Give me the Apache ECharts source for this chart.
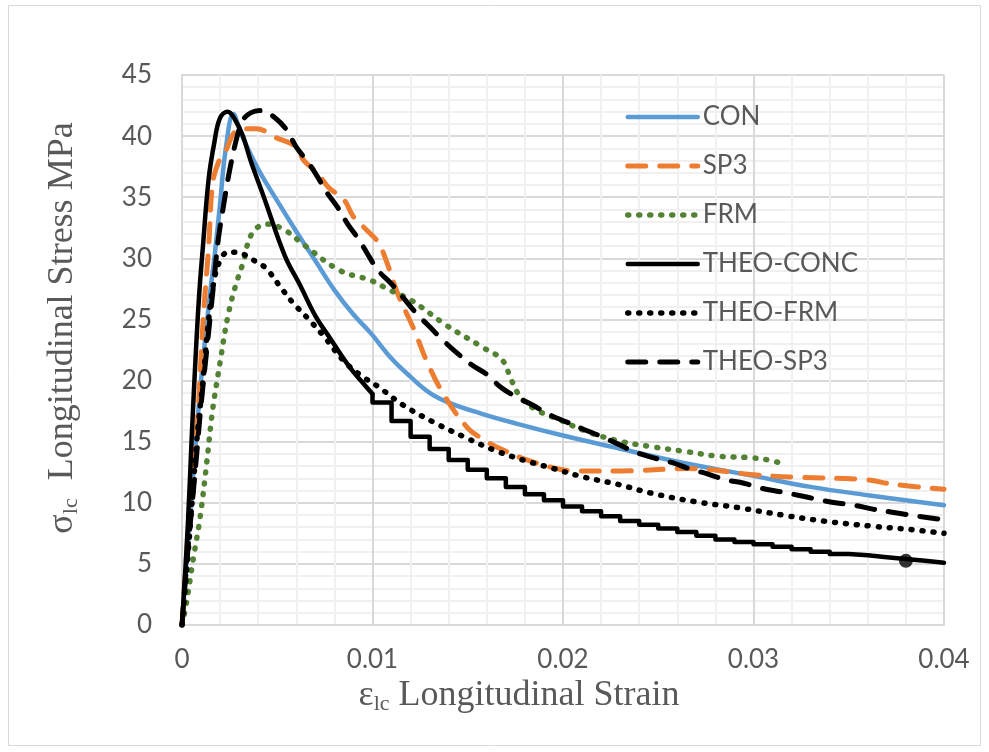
<!DOCTYPE html>
<html>
<head>
<meta charset="utf-8">
<script src="https://cdn.jsdelivr.net/npm/echarts@6/dist/echarts.min.js"></script>
<style>
  html, body { margin: 0; padding: 0; background: #fff; }
  #chart { width: 989px; height: 752px; }
</style>
</head>
<body>
<div id="chart"></div>
<script>
// strain (x) and stress (y, MPa)
const conX = [0, 0.0005, 0.001, 0.0015, 0.0017, 0.002, 0.0023, 0.0027, 0.0031, 0.004, 0.005, 0.006, 0.007, 0.008, 0.009, 0.0099, 0.011, 0.012, 0.013, 0.014, 0.0157, 0.0175, 0.02, 0.0225, 0.0262, 0.03, 0.033, 0.0361, 0.04];
const conY = [0, 10.5, 20, 27.5, 30, 34.5, 39, 41.8, 40.2, 37.3, 34.7, 32.2, 29.8, 27.4, 25.4, 23.9, 21.8, 20.3, 19, 18.2, 17.3, 16.5, 15.5, 14.6, 13.3, 12.2, 11.3, 10.6, 9.8];

const sp3X = [0, 0.0003, 0.0008, 0.0011, 0.0014, 0.0016, 0.0019, 0.0023, 0.0027, 0.0031, 0.0039, 0.0049, 0.006, 0.0064, 0.0071, 0.0077, 0.0085, 0.009, 0.0097, 0.0103, 0.0107, 0.0113, 0.0122, 0.0129, 0.0138, 0.015, 0.0157, 0.0166, 0.0185, 0.0208, 0.023, 0.0266, 0.03, 0.032, 0.0358, 0.0374, 0.04];
const sp3Y = [0, 7, 16.5, 24.7, 31, 36, 37.8, 38.8, 40.2, 40.6, 40.6, 39.9, 39.1, 38, 37, 35.8, 34.8, 33.4, 32.3, 31.3, 29.9, 27.2, 24.1, 21.4, 18.7, 16.1, 15.3, 14.5, 13.3, 12.6, 12.6, 12.8, 12.3, 12.1, 11.9, 11.5, 11.1];

const frmX = [0, 0.0002, 0.0006, 0.00095, 0.0013, 0.0016, 0.002, 0.0024, 0.0028, 0.0032, 0.0037, 0.0045, 0.0054, 0.0064, 0.0083, 0.0099, 0.0109, 0.012, 0.0139, 0.0158, 0.0168, 0.0173, 0.0178, 0.0186, 0.0198, 0.0213, 0.0231, 0.0246, 0.0264, 0.0282, 0.0297, 0.0308, 0.0315];
const frmY = [0, 1.5, 5.5, 8.8, 13.3, 17.5, 21.5, 25.2, 27.7, 29.6, 32.1, 32.8, 32.3, 31.1, 29, 28.2, 27.4, 26.6, 24.5, 22.7, 21.7, 20, 18.6, 17.6, 16.8, 15.8, 15, 14.6, 14.2, 13.8, 13.7, 13.5, 13.2];

// THEO-CONC: smooth rise and fall up to 0.01, then a staircase
const theoConcX = [0, 0.0003, 0.0005, 0.0007, 0.0009, 0.0011, 0.0014, 0.0017, 0.002, 0.0024, 0.0028, 0.0032, 0.0036, 0.0043, 0.0054, 0.0062, 0.007, 0.0078, 0.0088, 0.0095, 0.01];
const theoConcY = [0, 8, 15, 21.5, 27, 31, 36.5, 39.5, 41.5, 42, 41.3, 40, 38, 35, 30.2, 27.8, 25.3, 23.4, 21.1, 19.8, 18.9];
const stepX = [0.010, 0.011, 0.012, 0.013, 0.014, 0.015, 0.016, 0.017, 0.018, 0.019, 0.020, 0.021, 0.022, 0.023, 0.024, 0.025, 0.026, 0.027, 0.028, 0.029, 0.030, 0.031, 0.032, 0.033, 0.034, 0.035, 0.036, 0.037, 0.038, 0.039];
const stepY = [18.2, 16.7, 15.4, 14.4, 13.5, 12.7, 12.0, 11.3, 10.7, 10.2, 9.7, 9.3, 8.9, 8.5, 8.2, 7.9, 7.6, 7.3, 7.0, 6.8, 6.6, 6.4, 6.2, 6.0, 5.8, 5.7, 5.55, 5.4, 5.25, 5.1];
const stepEndX = 0.04;
const markPt = [0.038, 5.25];

const theoFrmX = [0, 0.0003, 0.0005, 0.0008, 0.0011, 0.0014, 0.0017, 0.002, 0.0024, 0.0029, 0.0035, 0.0039, 0.0044, 0.0051, 0.0058, 0.0066, 0.0074, 0.0085, 0.0094, 0.0103, 0.0116, 0.0132, 0.0148, 0.0164, 0.0179, 0.0195, 0.0211, 0.0229, 0.0246, 0.0269, 0.0292, 0.0315, 0.0337, 0.0361, 0.0383, 0.04];
const theoFrmY = [0, 5.5, 9.5, 15.5, 20, 25, 28.3, 29.8, 30.5, 30.5, 30.1, 29.7, 29.2, 27.8, 26.4, 25.1, 23.7, 21.6, 20.4, 19.5, 18, 16.6, 15.4, 14.3, 13.5, 12.8, 12.1, 11.5, 10.8, 10.1, 9.6, 9.0, 8.5, 8.1, 7.8, 7.5];

const theoSp3X = [0, 0.0003, 0.0006, 0.0008, 0.001, 0.0013, 0.0015, 0.0017, 0.0019, 0.0022, 0.0025, 0.0029, 0.0032, 0.0036, 0.0042, 0.0048, 0.0055, 0.006, 0.0066, 0.0071, 0.0076, 0.0082, 0.0087, 0.0093, 0.0098, 0.0103, 0.011, 0.0116, 0.0123, 0.013, 0.0137, 0.0144, 0.0152, 0.016, 0.0167, 0.0175, 0.0184, 0.0193, 0.0202, 0.0211, 0.0219, 0.0229, 0.0237, 0.0247, 0.0257, 0.0266, 0.0275, 0.0285, 0.0295, 0.0304, 0.0314, 0.0324, 0.0333, 0.0343, 0.0353, 0.0362, 0.0372, 0.0382, 0.0391, 0.04];
const theoSp3Y = [0, 6, 11, 14.5, 18, 22.5, 25.5, 28.5, 31.5, 34.5, 37.2, 40, 41.3, 41.9, 42.1, 41.6, 40.5, 39.1, 37.9, 36.7, 35.4, 34.1, 32.8, 31.5, 30.2, 29, 27.9, 26.8, 25.5, 24.4, 23.3, 22.3, 21.3, 20.5, 19.5, 18.7, 18, 17.2, 16.6, 16, 15.5, 14.8, 14.2, 13.7, 13.3, 12.8, 12.4, 11.9, 11.6, 11.2, 10.9, 10.6, 10.3, 10, 9.8, 9.5, 9.25, 9, 8.8, 8.6];

const names = ['CON', 'SP3', 'FRM', 'THEO-CONC', 'THEO-FRM', 'THEO-SP3'];

const zip = (xs, ys) => xs.map((x, i) => [x, ys[i]]);

// staircase corners: drop at each step x, then run flat to the next one
const stairs = [[theoConcX[theoConcX.length - 1], theoConcY[theoConcY.length - 1]]];
stepX.forEach((x, i) => {
  stairs.push([x, stairs[stairs.length - 1][1]]);
  stairs.push([x, stepY[i]]);
});
stairs.push([stepEndX, stepY[stepY.length - 1]]);

const GREY = '#595959';
const dash = [18, 14];
const dots = [1, 10];

const styles = {
  'CON': { color: '#5b9bd5', width: 4.5, type: 'solid' },
  'SP3': { color: '#ed7d31', width: 5, type: dash },
  'FRM': { color: '#548235', width: 5.5, type: dots },
  'THEO-CONC': { color: '#000', width: 4.5, type: 'solid' },
  'THEO-FRM': { color: '#000', width: 5.5, type: dots },
  'THEO-SP3': { color: '#000', width: 5, type: dash },
};

const chart = echarts.init(document.getElementById('chart'));

const lineSeries = (name, data, smooth) => ({
  name,
  type: 'line',
  data,
  symbol: 'none',
  smooth: smooth === undefined ? 0.4 : smooth,
  lineStyle: { ...styles[name], cap: 'round', join: 'round' },
  itemStyle: { color: styles[name].color },
  z: 3,
});

chart.setOption({
  animation: false,
  backgroundColor: '#fff',
  graphic: [
    {
      type: 'rect',
      shape: { x: 8.5, y: 5.5, width: 972, height: 740 },
      style: { fill: 'none', stroke: '#d9d9d9', lineWidth: 1 },
      silent: true,
    },
  ],
  grid: { left: 182, right: 45, top: 75, bottom: 127, containLabel: false, outerBoundsMode: 'none' },
  legend: {
    orient: 'vertical',
    left: 620,
    top: 99,
    itemWidth: 70,
    itemHeight: 20,
    itemGap: 23,
    data: names.map((n) => ({ name: n, lineStyle: { ...styles[n], cap: 'round' } })),
    itemStyle: { opacity: 0 },
    textStyle: { fontFamily: 'Lato', fontSize: 26, color: GREY, lineHeight: 26 },
  },
  xAxis: {
    type: 'value',
    min: 0,
    max: 0.04,
    interval: 0.01,
    name: '{e|ε}{sub|lc}{t| Longitudinal Strain}',
    nameLocation: 'middle',
    nameGap: 51,
    nameTextStyle: {
      padding: [0, 88, 0, 0],
      rich: {
        e: { fontFamily: 'Liberation Serif', fontSize: 36, color: GREY },
        t: { fontFamily: 'Liberation Serif', fontSize: 36, color: GREY },
        sub: { fontFamily: 'Liberation Serif', fontSize: 22, color: GREY, padding: [16, 0, 0, 0] },
      },
    },
    axisLine: { show: true, lineStyle: { color: '#d9d9d9', width: 2 } },
    axisTick: { show: false },
    axisLabel: {
      margin: 22,
      fontFamily: 'Lato',
      fontSize: 26,
      color: GREY,
      showMinLabel: true,
      showMaxLabel: true,
      formatter: (v) => String(Math.round(v * 100) / 100),
    },
    splitLine: { show: true, lineStyle: { color: '#d9d9d9', width: 2 } },
    minorTick: { show: false, splitNumber: 5 },
    minorSplitLine: { show: true, lineStyle: { color: '#f0f0f0', width: 2 } },
  },
  yAxis: {
    type: 'value',
    min: 0,
    max: 45,
    interval: 5,
    name: '{s|σ}{sub|lc}{t|  Longitudinal Stress MPa}',
    nameLocation: 'middle',
    nameGap: 100,
    nameTextStyle: {
      padding: [0, 0, 0, 44],
      rich: {
        s: { fontFamily: 'Liberation Serif', fontSize: 36, color: GREY },
        t: { fontFamily: 'Liberation Serif', fontSize: 36, color: GREY },
        sub: { fontFamily: 'Liberation Serif', fontSize: 22, color: GREY, padding: [16, 0, 0, 0] },
      },
    },
    axisLine: { show: true, lineStyle: { color: '#d9d9d9', width: 2 } },
    axisTick: { show: false },
    axisLabel: { margin: 30, fontFamily: 'Lato', fontSize: 26, color: GREY },
    splitLine: { show: true, lineStyle: { color: '#d9d9d9', width: 2 } },
    minorTick: { show: false, splitNumber: 5 },
    minorSplitLine: { show: true, lineStyle: { color: '#f0f0f0', width: 2 } },
  },
  series: [
    lineSeries('CON', zip(conX, conY)),
    lineSeries('SP3', zip(sp3X, sp3Y)),
    lineSeries('FRM', zip(frmX, frmY)),
    lineSeries('THEO-CONC', zip(theoConcX, theoConcY)),
    lineSeries('THEO-FRM', zip(theoFrmX, theoFrmY)),
    lineSeries('THEO-SP3', zip(theoSp3X, theoSp3Y)),
    lineSeries('THEO-CONC', stairs, false),
    {
      name: 'point',
      type: 'scatter',
      data: [markPt],
      symbol: 'circle',
      symbolSize: 14,
      itemStyle: { color: '#000' },
      z: 4,
    },
  ],
});

window.addEventListener('resize', () => chart.resize());
</script>
</body>
</html>
